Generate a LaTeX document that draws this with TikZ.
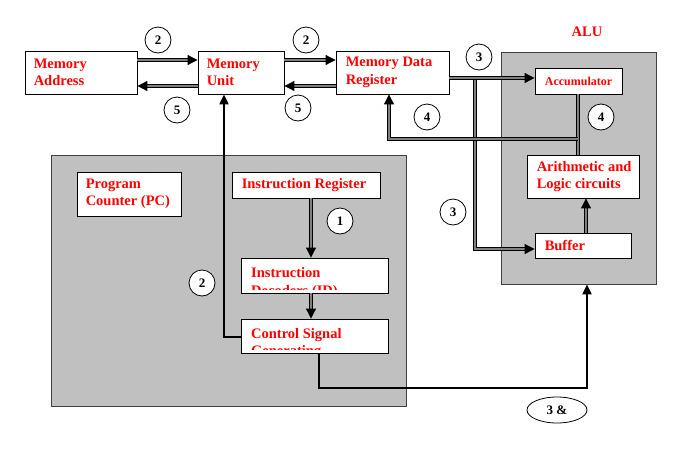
\documentclass[tikz,border=0pt]{standalone}
\usepackage{fontspec}
\setmainfont{Liberation Serif}
\usetikzlibrary{arrows.meta,shapes.geometric}
\definecolor{boxred}{RGB}{255,0,0}
\definecolor{panel}{RGB}{192,192,192}
\definecolor{pipe}{RGB}{128,128,128}
\tikzset{
 lbl/.style={font=\fontsize{14.5}{17.5}\selectfont\bfseries, text=boxred, inner sep=0pt, align=left},
 unit/.style={draw=black, fill=white, line width=0.9pt, inner sep=0pt},
 panelbox/.style={draw=black!75, fill=panel, line width=0.9pt, inner sep=0pt},
 num/.style={circle, draw, fill=white, line width=0.8pt, minimum size=26pt, inner sep=0pt, font=\fontsize{13}{13}\selectfont\bfseries},
 bus/.style={double=pipe, double distance=2.4pt, line width=1pt, -{Triangle[length=10pt,width=10pt]}},
 busplain/.style={double=pipe, double distance=2.4pt, line width=1pt},
 ctl/.style={line width=2.2pt, -{Triangle[length=10pt,width=9pt]}},
}
\begin{document}
\begin{tikzpicture}[x=1pt,y=-1pt]
\useasboundingbox (0,0) rectangle (683,448);
% panels
\node[panelbox, minimum width=355pt, minimum height=251pt] (cpu) at (228.5,280.5) {};
\node[panelbox, minimum width=155pt, minimum height=232pt] (alup) at (578.5,168) {};
\node[font=\fontsize{14.5}{17.5}\selectfont\bfseries, text=boxred] (alut) at (587,32) {ALU};
% boxes
\node[unit, minimum width=112pt, minimum height=43pt] (ma) at (81,72.5) {};
\node[lbl, anchor=west] (mat) at ([xshift=9pt]ma.west) {Memory\\Address};
\node[unit, minimum width=86pt, minimum height=43pt] (mu) at (241,72.5) {};
\node[lbl, anchor=west] (mut) at ([xshift=9pt]mu.west) {Memory\\Unit};
\node[unit, minimum width=113pt, minimum height=43pt] (mdr) at (392.5,72.5) {};
\node[lbl, anchor=west] (mdrt) at ([xshift=10pt]mdr.west) {Memory Data\\Register};
\node[unit, minimum width=87pt, minimum height=26pt, font=\fontsize{12}{14}\selectfont\bfseries, text=boxred] (acc) at (578.5,81) {Accumulator};
\node[unit, minimum width=112pt, minimum height=43pt] (alc) at (583,176.5) {};
\node[lbl, anchor=west] (alct) at ([xshift=10pt]alc.west) {Arithmetic and\\Logic circuits};
\node[unit, minimum width=96pt, minimum height=25pt] (buf) at (583,245.5) {};
\node[lbl, anchor=west] (buft) at ([xshift=10pt]buf.west) {Buffer};
\node[unit, minimum width=104pt, minimum height=44pt] (pc) at (129,194) {};
\node[lbl, anchor=west] (pct) at ([xshift=9pt]pc.west) {Program\\Counter (PC)};
\node[unit, minimum width=148pt, minimum height=26pt] (ir) at (306,185) {};
\node[lbl, anchor=west] (irt) at ([xshift=10pt]ir.west) {Instruction Register};
\node[unit, minimum width=147pt, minimum height=35pt] (id) at (314.5,275.5) {};
\begin{scope}
\clip (id.north west) rectangle ([yshift=4pt]id.south east);
\node[lbl, anchor=base west] (idt) at (251,295) {Instruction\\Decoders (ID)};
\end{scope}
\node[unit, minimum width=147pt, minimum height=34pt] (cs) at (314.5,336) {};
\begin{scope}
\clip (cs.north west) rectangle ([yshift=4pt]cs.south east);
\node[lbl, anchor=base west] (cst) at (251,355.5) {Control Signal\\Generating};
\end{scope}
% helper coordinates
\coordinate (j) at (475,78);
\coordinate (k) at (475,249);
\coordinate (m) at (578,139);
\coordinate (n) at (389,139);
\coordinate (p) at (311,200);
\coordinate (q) at (224,337);
\coordinate (r) at (319,388);
\coordinate (s) at (587,388);
\coordinate (t) at (586,200);
% buses
\draw[bus] ([yshift=12.5pt]ma.east) -- ([yshift=12.5pt]mu.west);
\draw[bus] ([yshift=-13.5pt]mu.west) -- ([yshift=-13.5pt]ma.east);
\draw[bus] ([yshift=12.5pt]mu.east) -- ([yshift=12.5pt]mdr.west);
\draw[bus] ([yshift=-13.5pt]mdr.west) -- ([yshift=-13.5pt]mu.east);
\draw[bus] (j) -- (k) -- (buf.west |- k);
\draw[bus] (mdr.east |- j) -- (acc.west |- j);
\draw[busplain] (acc.south -| m) -- (alc.north -| m);
\draw[bus] (m) -- (n) -- (mdr.south -| n);
\draw[bus] (buf.north -| t) -- (alc.south -| t);
\draw[bus] (ir.south -| p) -- (id.north -| p);
\draw[bus] (id.south -| p) -- (cs.north -| p);
% control lines
\draw[ctl] (cs.west |- q) -- (q) -- (mu.south -| q);
\draw[ctl] (cs.south -| r) -- (r) -- (s) -- (alup.south -| s);
% numbered circles
\node[num] (c2a) at (158,40) {2};
\node[num] (c2b) at (306,40) {2};
\node[num] (c5a) at (177,110) {5};
\node[num] (c5b) at (298,108) {5};
\node[num] (c3a) at (479,57) {3};
\node[num] (c4a) at (427,117) {4};
\node[num] (c4b) at (601,117) {4};
\node[num] (c3b) at (453,212) {3};
\node[num] (c1) at (340,221) {1};
\node[num] (c2c) at (202,283) {2};
\node[ellipse, draw, fill=white, line width=0.8pt, minimum width=60pt, minimum height=26pt, inner sep=0pt, font=\fontsize{13}{13}\selectfont\bfseries] (e3) at (557,410) {3 \&};
\end{tikzpicture}
\end{document}
